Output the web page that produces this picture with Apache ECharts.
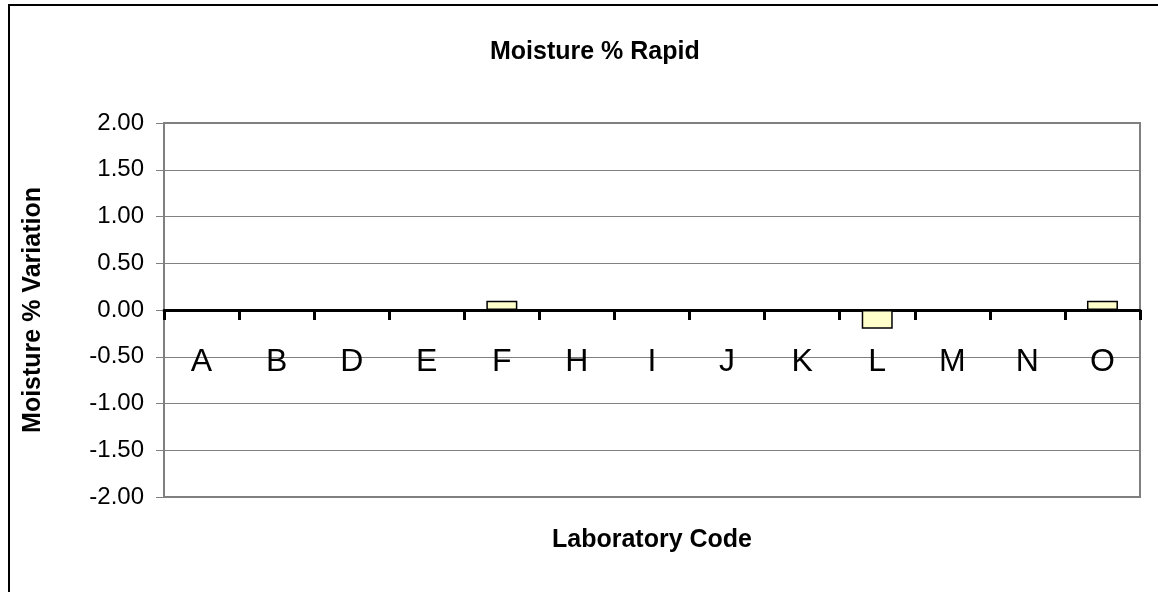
<!DOCTYPE html>
<html>
<head>
<meta charset="utf-8">
<script src="https://cdn.jsdelivr.net/npm/echarts@6/dist/echarts.min.js"></script>
<style>
  html, body { margin: 0; padding: 0; background: #fff; }
  #frame { position: absolute; left: 8px; top: 4px; width: 1160px; height: 600px;
           border-left: 2px solid #000; border-top: 2px solid #000; }
  #chart { position: absolute; left: 0; top: 0; width: 1158px; height: 592px; }
</style>
</head>
<body>
<div id="frame"></div>
<div id="chart"></div>
<script>
// lab codes and their moisture variation
const labCodes = ['A', 'B', 'D', 'E', 'F', 'H', 'I', 'J', 'K', 'L', 'M', 'N', 'O']
const variation = [0, 0, 0, 0, 0.1, 0, 0, 0, 0, -0.2, 0, 0, 0.1]
const yTicks = { min: -2, max: 2, step: 0.5 }

const chart = echarts.init(document.getElementById('chart'))
const option = {
  animation: false,
  textStyle: { fontFamily: 'Arial, "Liberation Sans", sans-serif' },
  title: {
    text: 'Moisture % Rapid',
    left: 485,
    top: 35,
    textStyle: { fontSize: 25, fontWeight: 'bold', color: '#000' }
  },
  grid: {
    left: 164, right: 18, top: 123, bottom: 95,
    containLabel: false,
    outerBoundsMode: 'none',
    show: true, borderColor: '#808080', borderWidth: 2
  },
  xAxis: {
    type: 'category',
    data: labCodes,
    name: 'Laboratory Code',
    nameLocation: 'middle',
    nameGap: 31,
    nameTextStyle: { fontSize: 25, fontWeight: 'bold', color: '#000' },
    axisLine: { onZero: true, lineStyle: { color: '#000', width: 3 } },
    axisTick: { show: true, length: 10, lineStyle: { color: '#000', width: 3 } },
    // labels sit just under the zero line, inside the plot
    axisLabel: { fontSize: 32, color: '#000', margin: -151 }
  },
  yAxis: {
    type: 'value',
    min: yTicks.min,
    max: yTicks.max,
    interval: yTicks.step,
    name: 'Moisture % Variation',
    nameLocation: 'middle',
    nameGap: 118,
    nameTextStyle: { fontSize: 25, fontWeight: 'bold', color: '#000' },
    axisLine: { show: true, lineStyle: { color: '#808080', width: 2 } },
    axisTick: { show: true, length: 8, lineStyle: { color: '#808080', width: 1 } },
    axisLabel: { fontSize: 24, color: '#000', margin: 20, formatter: v => v.toFixed(2) },
    splitLine: { show: true, lineStyle: { color: '#808080', width: 1 } }
  },
  series: [{
    type: 'bar',
    data: variation,
    barWidth: 31,
    itemStyle: { color: '#FFFFCC', borderColor: '#000', borderWidth: 1.5 }
  }]
}
chart.setOption(option)
</script>
</body>
</html>
